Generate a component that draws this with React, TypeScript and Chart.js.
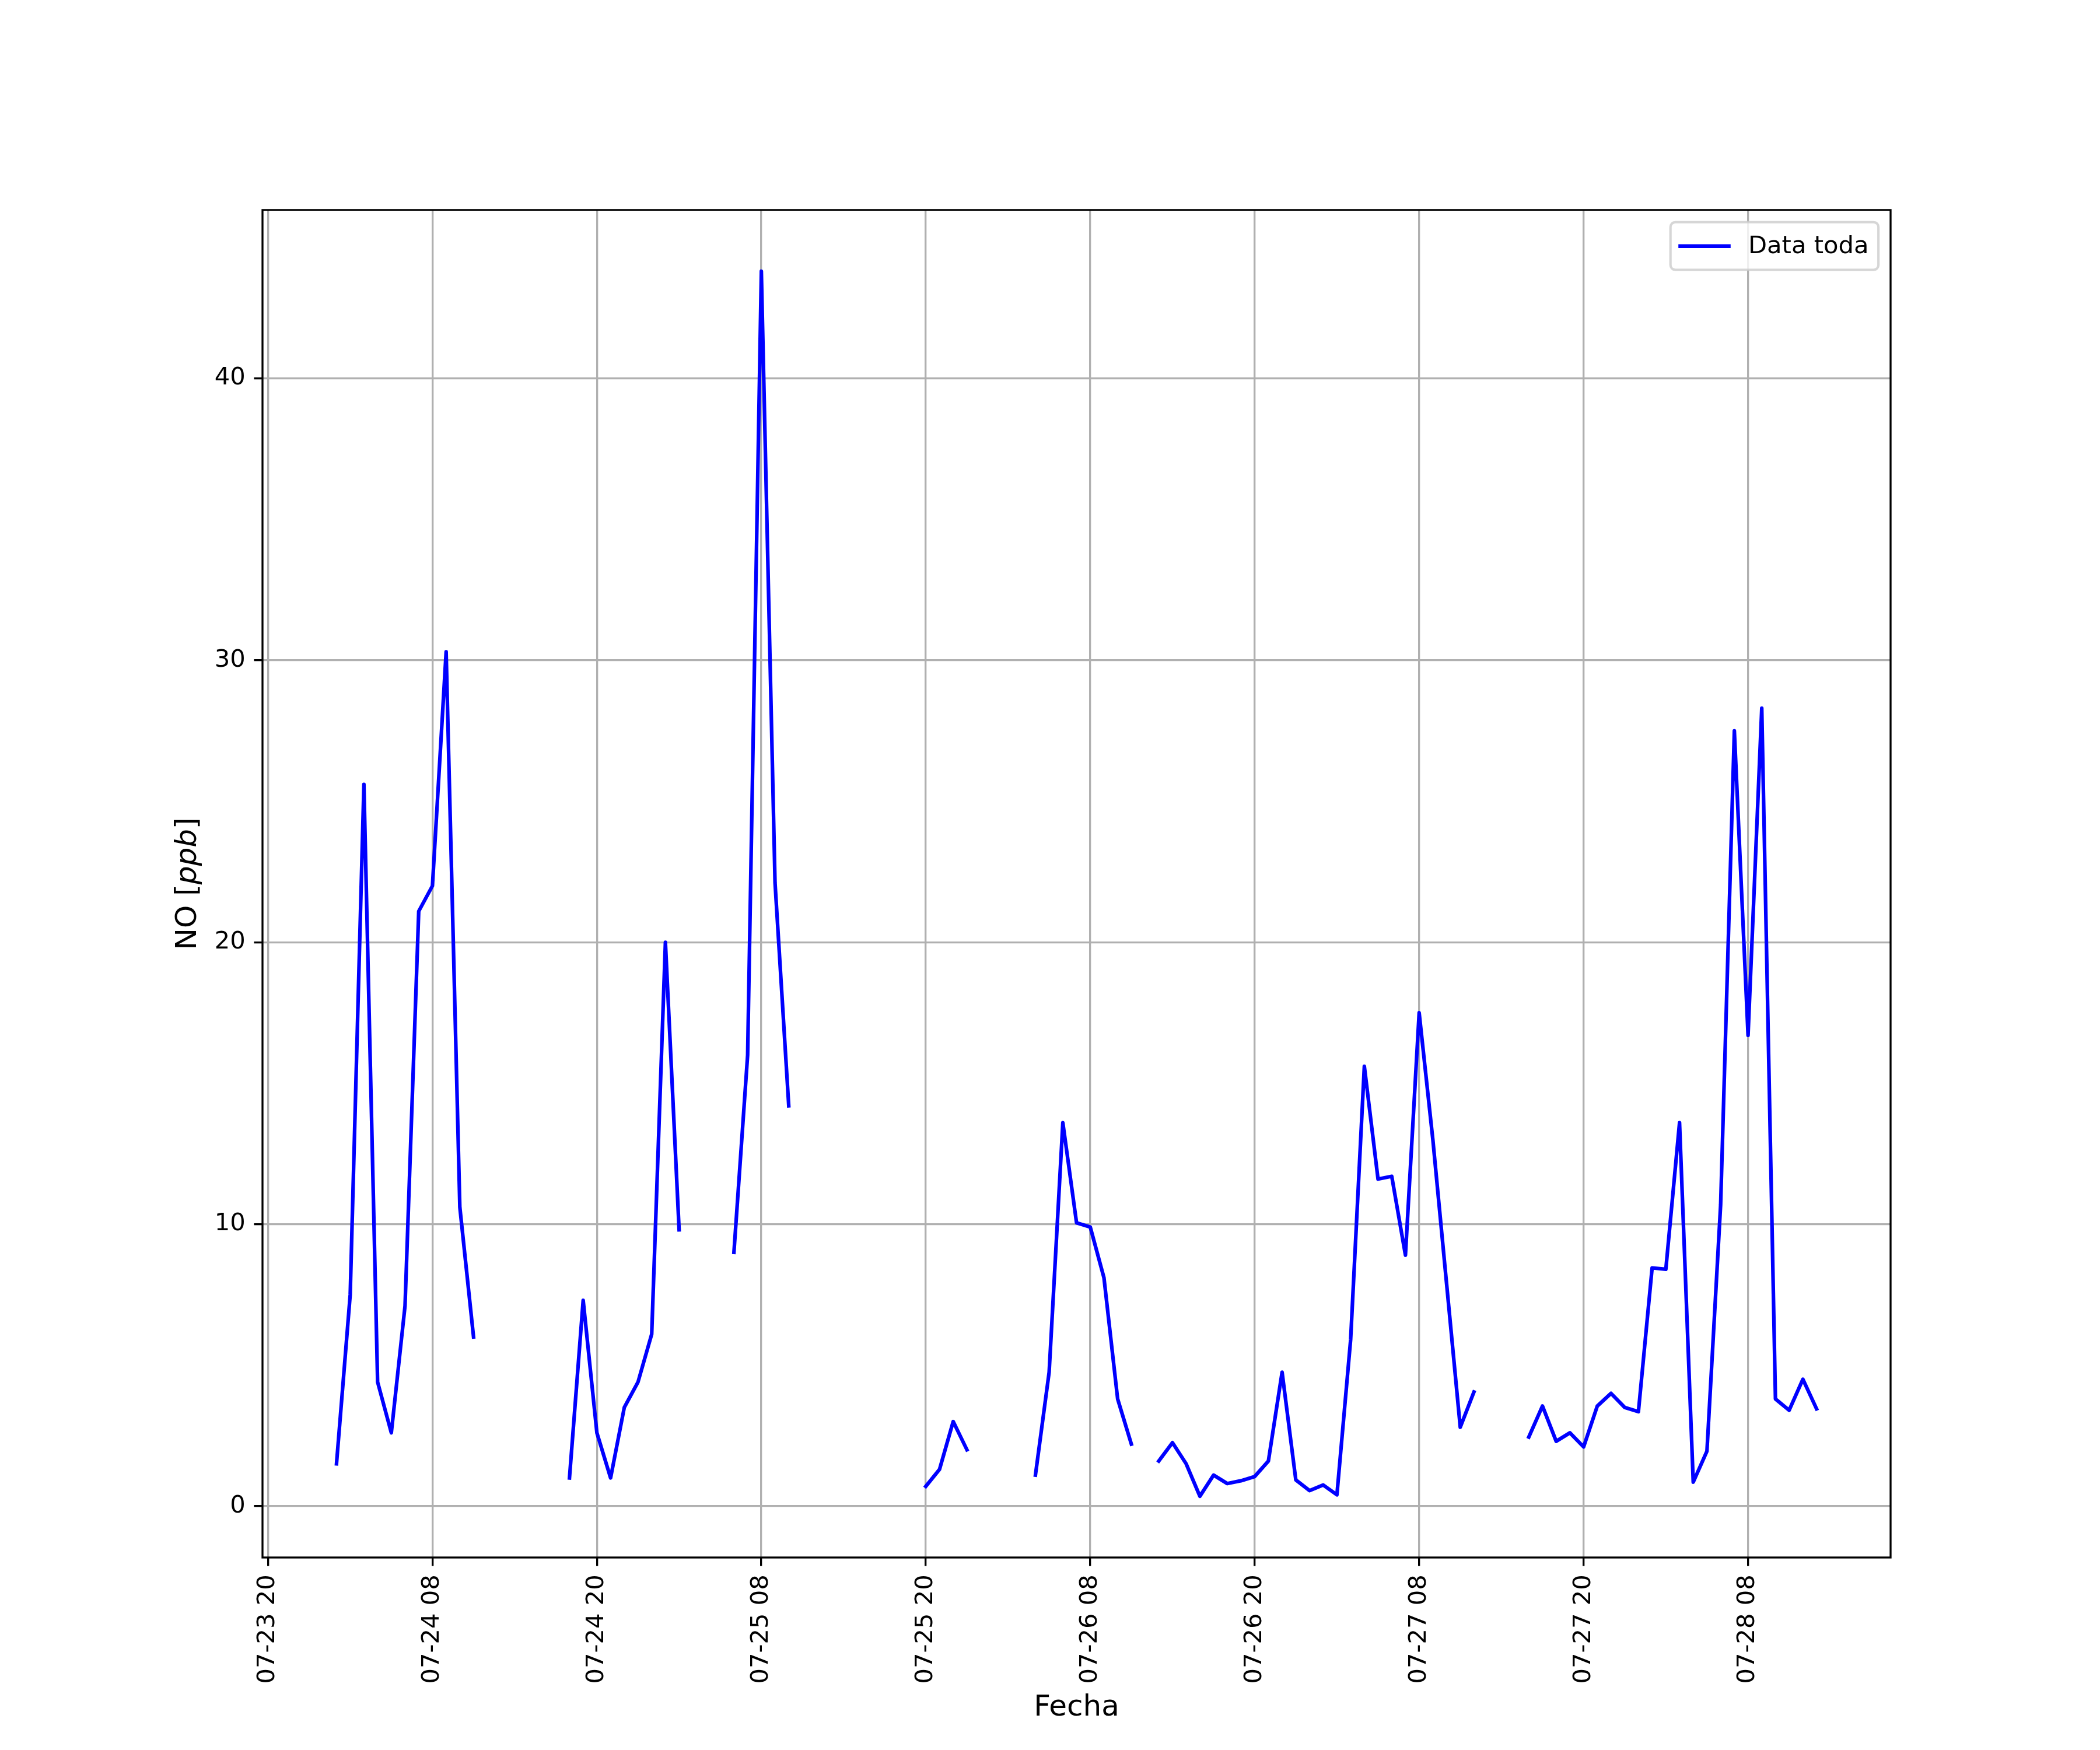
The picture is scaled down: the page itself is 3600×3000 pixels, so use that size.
import React, { useEffect, useRef } from 'react';
import { Chart, registerables } from 'chart.js';

Chart.register(...registerables);

// Hourly NO samples starting 07-24 01:00 (index = hours after start); null = no data
const noValues: (number | null)[] = [
  1.5, 7.5, 25.6, 4.4, 2.6, 7.1, 21.1, 22.0, 30.3, 10.6, 6.0,
  null, null, null, null, null, null,
  1.0, 7.3, 2.6, 1.0, 3.5, 4.4, 6.1, 20.0, 9.8,
  null, null, null,
  9.0, 16.0, 43.8, 22.1, 14.2,
  null, null, null, null, null, null, null, null, null,
  0.7, 1.3, 3.0, 2.0,
  null, null, null, null,
  1.1, 4.75, 13.6, 10.05, 9.9, 8.1, 3.8, 2.2,
  null,
  1.6, 2.25, 1.5, 0.35, 1.1, 0.8, 0.9, 1.05, 1.6, 4.75, 0.93, 0.55, 0.75, 0.4,
  5.9, 15.6, 11.6, 11.7, 8.9, 17.5, 13.0, 7.9, 2.8, 4.05,
  null, null, null,
  2.45, 3.55, 2.3, 2.6, 2.1, 3.55, 4.0, 3.5, 3.35, 8.45, 8.4, 13.6, 0.85, 1.95,
  10.7, 27.5, 16.7, 28.3, 3.8, 3.4, 4.5, 3.45,
];

// x tick positions (hours after 07-24 01:00) and their labels
const xTickHours = [-5, 7, 19, 31, 43, 55, 67, 79, 91, 103];
const xTickLabels = [
  '07-23 20', '07-24 08', '07-24 20', '07-25 08', '07-25 20',
  '07-26 08', '07-26 20', '07-27 08', '07-27 20', '07-28 08',
];
const yTicks = [0, 10, 20, 30, 40];

const seriesLabel = 'Data toda';
const xTitle = 'Fecha';

const W = 3600;
const H = 3000;
const PT = 300 / 72;
const FONT_PX = 10 * PT;
const LABEL_PX = 12 * PT;
const FONT = `${FONT_PX}px 'DejaVu Sans'`;
const LFONT = `${LABEL_PX}px 'DejaVu Sans'`;
const LFONT_IT = `italic ${LABEL_PX}px 'DejaVu Sans'`;

export default function App() {
  const ref = useRef<HTMLCanvasElement | null>(null);

  useEffect(() => {
    const canvas = ref.current;
    if (!canvas) return;

    const n = noValues.length;
    const span = n - 1;
    const xMin = -0.05 * span;
    const xMax = span + 0.05 * span;
    const vals = noValues.filter((v) => v !== null) as number[];
    const dMin = Math.min(...vals);
    const dMax = Math.max(...vals);
    const yMin = dMin - 0.05 * (dMax - dMin);
    const yMax = dMax + 0.05 * (dMax - dMin);

    const overlay = {
      id: 'overlay',
      beforeDraw(chart: any) {
        const c = chart.ctx;
        c.save();
        c.fillStyle = '#ffffff';
        c.fillRect(0, 0, chart.width, chart.height);
        c.restore();
      },
      afterDraw(chart: any) {
        const c = chart.ctx as CanvasRenderingContext2D;
        const a = chart.chartArea;
        c.save();
        // spines
        c.strokeStyle = '#000000';
        c.lineWidth = 0.8 * PT;
        c.lineJoin = 'miter';
        c.strokeRect(a.left, a.top, a.right - a.left, a.bottom - a.top);

        // legend
        c.font = FONT;
        const textW = c.measureText(seriesLabel).width;
        const pad = 0.4 * FONT_PX;
        const hl = 2.0 * FONT_PX;
        const htp = 0.8 * FONT_PX;
        const axPad = 0.5 * FONT_PX;
        const textH = 1.164 * FONT_PX;
        const boxR = a.right - axPad;
        const boxT = a.top + axPad;
        const boxW = pad + hl + htp + textW + pad;
        const boxH = pad * 2 + textH;
        const boxL = boxR - boxW;
        const r = 0.2 * FONT_PX;
        c.beginPath();
        c.moveTo(boxL + r, boxT);
        c.lineTo(boxR - r, boxT);
        c.arcTo(boxR, boxT, boxR, boxT + r, r);
        c.lineTo(boxR, boxT + boxH - r);
        c.arcTo(boxR, boxT + boxH, boxR - r, boxT + boxH, r);
        c.lineTo(boxL + r, boxT + boxH);
        c.arcTo(boxL, boxT + boxH, boxL, boxT + boxH - r, r);
        c.lineTo(boxL, boxT + r);
        c.arcTo(boxL, boxT, boxL + r, boxT, r);
        c.closePath();
        c.fillStyle = 'rgba(255,255,255,0.8)';
        c.fill();
        c.strokeStyle = 'rgba(204,204,204,0.8)';
        c.lineWidth = 1.0 * PT;
        c.stroke();
        const cy = boxT + boxH / 2;
        c.beginPath();
        c.moveTo(boxL + pad, cy);
        c.lineTo(boxL + pad + hl, cy);
        c.strokeStyle = '#0000ff';
        c.lineWidth = 1.5 * PT;
        c.lineCap = 'square';
        c.stroke();
        c.fillStyle = '#000000';
        c.textAlign = 'left';
        c.textBaseline = 'middle';
        c.fillText(seriesLabel, boxL + pad + hl + htp, cy + 1);

        // x title
        c.font = LFONT;
        c.textAlign = 'center';
        c.textBaseline = 'middle';
        c.fillText(xTitle, (a.left + a.right) / 2, 2928);

        // y title: NO [ppb] with italic ppb
        const p1 = 'NO [';
        const p2 = 'ppb';
        const p3 = ']';
        c.font = LFONT;
        const w1 = c.measureText(p1).width;
        const w3 = c.measureText(p3).width;
        c.font = LFONT_IT;
        const w2 = c.measureText(p2).width;
        const total = w1 + w2 + w3;
        c.translate(323, (a.top + a.bottom) / 2);
        c.rotate(-Math.PI / 2);
        c.textAlign = 'left';
        c.textBaseline = 'middle';
        let x0 = -total / 2;
        c.font = LFONT;
        c.fillText(p1, x0, 0);
        x0 += w1;
        c.font = LFONT_IT;
        c.fillText(p2, x0, 0);
        x0 += w2;
        c.font = LFONT;
        c.fillText(p3, x0, 0);
        c.restore();
      },
    };

    const chart = new Chart(canvas, {
      type: 'line',
      data: {
        datasets: [
          {
            label: seriesLabel,
            data: noValues.map((v, i) => ({ x: i, y: v })) as any,
            borderColor: '#0000ff',
            backgroundColor: '#0000ff',
            borderWidth: 1.5 * PT,
            pointRadius: 0,
            pointHoverRadius: 0,
            tension: 0,
            spanGaps: false,
            fill: false,
            borderCapStyle: 'square',
            borderJoinStyle: 'round',
          },
        ],
      },
      options: {
        responsive: false,
        animation: false,
        devicePixelRatio: 1,
        events: [],
        layout: { padding: { left: 0, top: 360, right: W - 3241, bottom: 0 } },
        plugins: {
          legend: { display: false },
          tooltip: { enabled: false },
          title: { display: false },
        },
        scales: {
          x: {
            type: 'linear',
            min: xMin,
            max: xMax,
            afterBuildTicks: (s: any) => {
              s.ticks = xTickHours.map((v) => ({ value: v }));
            },
            afterFit: (s: any) => {
              s.height = H - 2670;
            },
            ticks: {
              autoSkip: false,
              minRotation: 90,
              maxRotation: 90,
              padding: 3.5 * PT,
              color: '#000000',
              font: { family: 'DejaVu Sans', size: FONT_PX },
              callback: (v: any) => {
                const k = xTickHours.indexOf(Number(v));
                return k >= 0 ? xTickLabels[k] : '';
              },
            },
            grid: {
              color: '#b0b0b0',
              lineWidth: 0.8 * PT,
              tickLength: 3.5 * PT,
              tickColor: '#000000',
              tickWidth: 0.8 * PT,
            },
            border: { display: false },
          },
          y: {
            type: 'linear',
            min: yMin,
            max: yMax,
            afterBuildTicks: (s: any) => {
              s.ticks = yTicks.map((v) => ({ value: v }));
            },
            afterFit: (s: any) => {
              s.width = 450;
            },
            ticks: {
              padding: 3.5 * PT,
              color: '#000000',
              font: { family: 'DejaVu Sans', size: FONT_PX },
              callback: (v: any) => String(v),
            },
            grid: {
              color: '#b0b0b0',
              lineWidth: 0.8 * PT,
              tickLength: 3.5 * PT,
              tickColor: '#000000',
              tickWidth: 0.8 * PT,
            },
            border: { display: false },
          },
        },
      },
      plugins: [overlay],
    });

    return () => {
      chart.destroy();
    };
  }, []);

  return (
    <div style={{ position: 'absolute', left: 0, top: 0, width: W, height: H, background: '#ffffff' }}>
      <canvas ref={ref} width={W} height={H} style={{ width: W, height: H, display: 'block' }} />
    </div>
  );
}
